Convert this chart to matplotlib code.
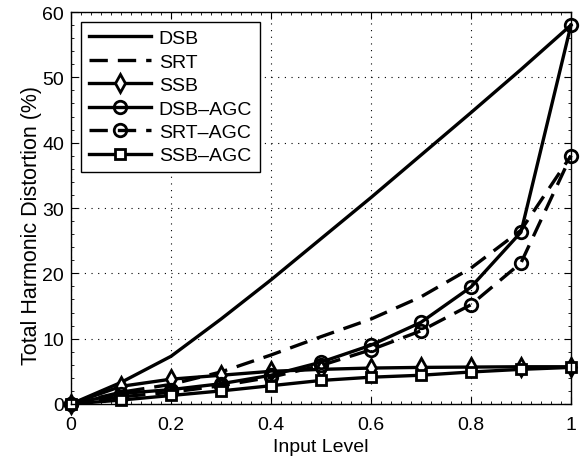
import matplotlib
matplotlib.use("Agg")
import matplotlib.pyplot as plt
from matplotlib.ticker import MultipleLocator

x = [0, 0.1, 0.2, 0.3, 0.4, 0.5, 0.6, 0.7, 0.8, 0.9, 1.0]
dsb = [0, 3.3, 7.3, 13.0, 19.0, 25.3, 31.6, 38.1, 44.6, 51.2, 58.0]
srt = [0, 1.8, 3.0, 4.9, 7.5, 10.3, 13.0, 16.4, 20.8, 26.6, 38.0]
ssb = [0, 2.7, 3.8, 4.4, 5.0, 5.3, 5.5, 5.6, 5.65, 5.7, 5.7]
dsb_agc = [0, 1.6, 2.2, 3.1, 4.4, 6.4, 9.0, 12.5, 17.9, 26.3, 58.0]
srt_agc = [0, 1.1, 1.8, 2.8, 4.1, 5.9, 8.3, 11.2, 15.2, 21.6, 38.0]
ssb_agc = [0, 0.6, 1.3, 2.0, 2.8, 3.6, 4.1, 4.4, 4.9, 5.3, 5.6]
labels = ["DSB", "SRT", "SSB", "DSB\u2013AGC", "SRT\u2013AGC", "SSB\u2013AGC"]
xticks = [0, 0.2, 0.4, 0.6, 0.8, 1]
yticks = [0, 10, 20, 30, 40, 50, 60]

plt.rcParams['font.family'] = ['Liberation Sans', 'DejaVu Sans']
plt.rcParams['font.size'] = 14

fig = plt.figure(figsize=(5.84, 4.6), dpi=100)
ax = fig.add_axes([0.1216, 0.1196, 0.8561, 0.8521])

lw = 2.4
ms = 9
mew = 2.0
dash = (0, (5.5, 3))
ax.plot(x, dsb, color='k', lw=lw, ls='-', label=labels[0], clip_on=False)
ax.plot(x, srt, color='k', lw=lw, ls=dash, label=labels[1], clip_on=False)
ax.plot(x, ssb, color='k', lw=lw, ls='-', marker='d', ms=ms, mew=mew, mfc='white', mec='k', label=labels[2], clip_on=False)
ax.plot(x, dsb_agc, color='k', lw=lw, ls='-', marker='o', ms=ms, mew=mew, mfc='none', mec='k', label=labels[3], clip_on=False)
ax.plot(x, srt_agc, color='k', lw=lw, ls=dash, marker='o', ms=ms, mew=mew, mfc='none', mec='k', label=labels[4], clip_on=False)
ax.plot(x, ssb_agc, color='k', lw=lw, ls='-', marker='s', ms=ms-1.5, mew=mew, mfc='white', mec='k', label=labels[5], clip_on=False)

ax.set_xlim(0, 1)
ax.set_ylim(0, 60)
ax.set_xticks(xticks)
ax.set_xticklabels(["0", "0.2", "0.4", "0.6", "0.8", "1"])
ax.set_yticks(yticks)
ax.xaxis.set_minor_locator(MultipleLocator(0.02))
ax.yaxis.set_minor_locator(MultipleLocator(2))
ax.tick_params(which='both', direction='in', top=True, right=True)
ax.tick_params(which='major', length=5, width=0.8)
ax.tick_params(axis='x', which='major', pad=9)
ax.tick_params(axis='y', which='major', pad=5)
ax.tick_params(which='minor', length=2, width=0.6)
ax.grid(True, which='major', ls=(0, (1, 5)), color='k', lw=0.8)
ax.set_axisbelow(True)
for s in ax.spines.values():
    s.set_linewidth(1.0)

ax.set_xlabel("Input Level", labelpad=3)
ax.set_ylabel("Total Harmonic Distortion (%)", fontsize=15.5)
ax.yaxis.set_label_coords(-0.058, 0.457)

leg = ax.legend(loc='upper left', bbox_to_anchor=(0.02, 0.975), fancybox=False, framealpha=1,
                edgecolor='k', handlelength=3.2, borderpad=0.4, labelspacing=0.3,
                handletextpad=0.4, borderaxespad=0)
leg.get_frame().set_linewidth(1.0)

fig.savefig("out.png", dpi=100)
